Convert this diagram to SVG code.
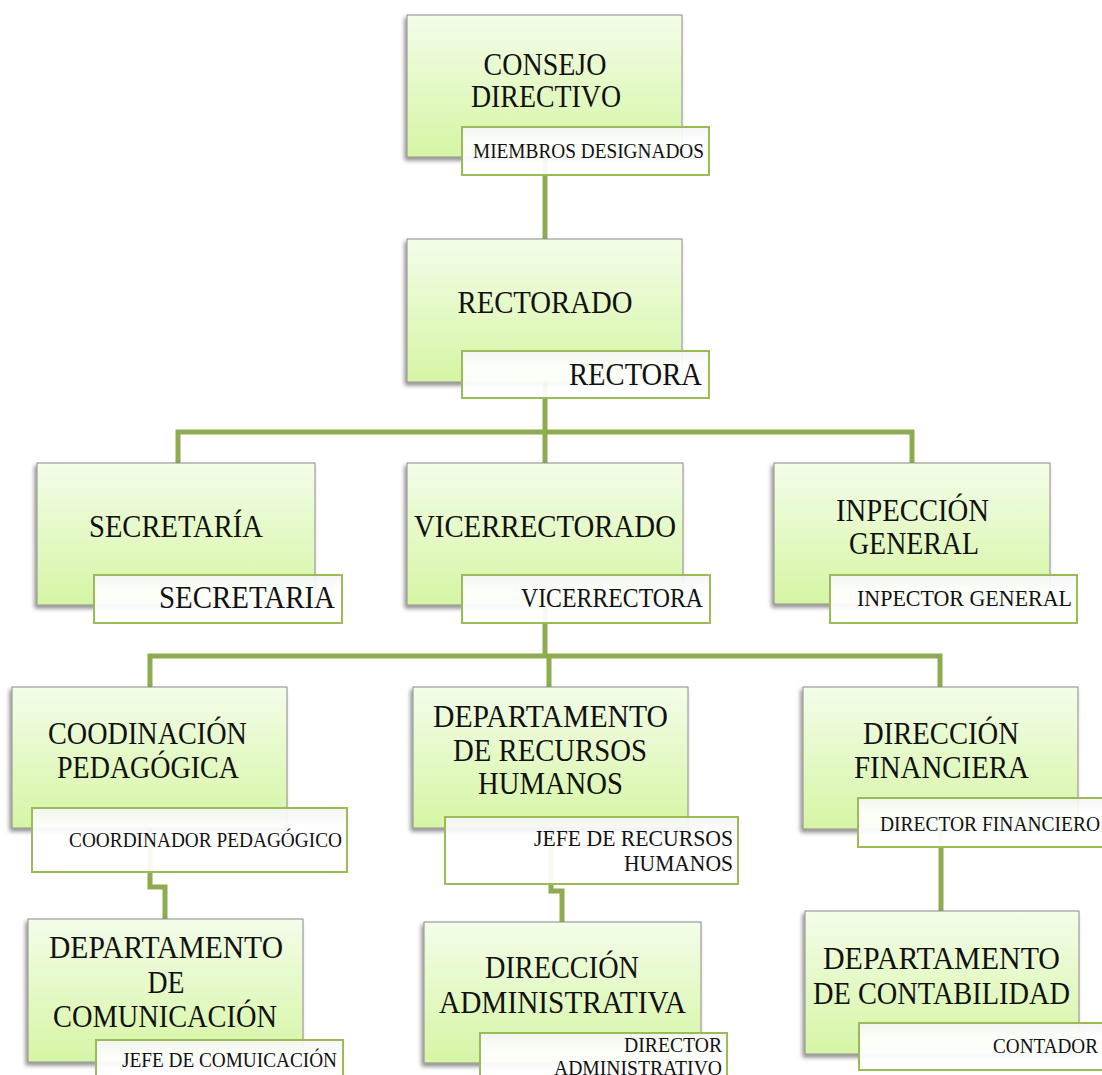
<svg xmlns="http://www.w3.org/2000/svg" width="1102" height="1075" viewBox="0 0 1102 1075">
<defs>
<linearGradient id="gFill" x1="0" y1="0" x2="0" y2="1">
<stop offset="0" stop-color="#f3fde9"/>
<stop offset="1" stop-color="#d6f5a4"/>
</linearGradient>
<linearGradient id="gLab" x1="0" y1="0" x2="0" y2="1">
<stop offset="0" stop-color="#f4f4f4" stop-opacity="0.92"/>
<stop offset="0.3" stop-color="#ffffff" stop-opacity="0.92"/>
<stop offset="1" stop-color="#ffffff" stop-opacity="0.94"/>
</linearGradient>
<filter id="sh" x="-10%" y="-10%" width="120%" height="125%">
<feDropShadow dx="-2" dy="3" stdDeviation="2" flood-color="#000" flood-opacity="0.45"/>
</filter>
</defs>
<style>
.box{fill:url(#gFill);stroke:#8c8c8c;stroke-width:1;filter:url(#sh)}
.lab{fill:url(#gLab);stroke:#9bbb59;stroke-width:2}
.t{font-family:"Liberation Serif","Times New Roman",serif;font-size:31px;fill:#111;text-anchor:middle}
.l{font-family:"Liberation Serif","Times New Roman",serif;fill:#111;text-anchor:end}
.c{fill:none;stroke:#8eab50;stroke-width:5}
</style>
<g id="connectors">
<path class="c" d="M545 158 V239"/>
<path class="c" d="M545 382 V432 M178 463 V432 H912 V463 M545 432 V463"/>
<path class="c" d="M545 605 V656 M150 687 V656 H940 V687 M549 656 V687"/>
<path class="c" d="M150 828 V887 H165 V919"/>
<path class="c" d="M551 828 V891 H562 V922"/>
<path class="c" d="M941 829 V911"/>
</g>
<g id="n-consejo">
<rect class="box" x="407" y="15" width="275" height="142"/>
<text class="t" x="545" y="75" textLength="123" lengthAdjust="spacingAndGlyphs">CONSEJO</text>
<text class="t" x="546" y="107" textLength="150" lengthAdjust="spacingAndGlyphs">DIRECTIVO</text>
<rect class="lab" x="462" y="127" width="247" height="48"/>
<text class="l" x="704" y="158" font-size="22" textLength="231" lengthAdjust="spacingAndGlyphs">MIEMBROS DESIGNADOS</text>
</g>
<g id="n-rectorado">
<rect class="box" x="407" y="239" width="275" height="143"/>
<text class="t" x="545" y="313" textLength="175" lengthAdjust="spacingAndGlyphs">RECTORADO</text>
<rect class="lab" x="462" y="351" width="247" height="47"/>
<text class="l" x="702" y="385" font-size="31" textLength="133" lengthAdjust="spacingAndGlyphs">RECTORA</text>
</g>
<g id="n-secretaria">
<rect class="box" x="37" y="463" width="278" height="142"/>
<text class="t" x="176" y="537" textLength="174" lengthAdjust="spacingAndGlyphs">SECRETARÍA</text>
<rect class="lab" x="94" y="575" width="248" height="48"/>
<text class="l" x="335" y="608" font-size="31" textLength="176" lengthAdjust="spacingAndGlyphs">SECRETARIA</text>
</g>
<g id="n-vicerrectorado">
<rect class="box" x="407" y="463" width="276" height="142"/>
<text class="t" x="545" y="537" textLength="262" lengthAdjust="spacingAndGlyphs">VICERRECTORADO</text>
<rect class="lab" x="462" y="575" width="248" height="48"/>
<text class="l" x="703" y="607" font-size="27" textLength="182" lengthAdjust="spacingAndGlyphs">VICERRECTORA</text>
</g>
<g id="n-inspeccion">
<rect class="box" x="774" y="463" width="276" height="141"/>
<text class="t" x="912.5" y="521" textLength="153" lengthAdjust="spacingAndGlyphs">INPECCIÓN</text>
<text class="t" x="914" y="554" textLength="130" lengthAdjust="spacingAndGlyphs">GENERAL</text>
<rect class="lab" x="830" y="575" width="247" height="48"/>
<text class="l" x="1072" y="606" font-size="24" textLength="215" lengthAdjust="spacingAndGlyphs">INPECTOR GENERAL</text>
</g>
<g id="n-coordinacion">
<rect class="box" x="12" y="687" width="275" height="141"/>
<text class="t" x="147.5" y="744" textLength="199" lengthAdjust="spacingAndGlyphs">COODINACIÓN</text>
<text class="t" x="148" y="778" textLength="182" lengthAdjust="spacingAndGlyphs">PEDAGÓGICA</text>
<rect class="lab" x="32" y="808" width="315" height="64"/>
<text class="l" x="342" y="847" font-size="21" textLength="273" lengthAdjust="spacingAndGlyphs">COORDINADOR PEDAGÓGICO</text>
</g>
<g id="n-rrhh">
<rect class="box" x="413" y="687" width="275" height="141"/>
<text class="t" x="550.5" y="727" textLength="235" lengthAdjust="spacingAndGlyphs">DEPARTAMENTO</text>
<text class="t" x="550" y="761" textLength="194" lengthAdjust="spacingAndGlyphs">DE RECURSOS</text>
<text class="t" x="550.5" y="794" textLength="145" lengthAdjust="spacingAndGlyphs">HUMANOS</text>
<rect class="lab" x="445" y="817" width="293" height="67"/>
<text class="l" x="733" y="846" font-size="24" textLength="199" lengthAdjust="spacingAndGlyphs">JEFE DE RECURSOS</text>
<text class="l" x="733" y="871" font-size="24" textLength="109" lengthAdjust="spacingAndGlyphs">HUMANOS</text>
</g>
<g id="n-financiera">
<rect class="box" x="803" y="687" width="275" height="142"/>
<text class="t" x="941" y="744" textLength="156" lengthAdjust="spacingAndGlyphs">DIRECCIÓN</text>
<text class="t" x="941.5" y="778" textLength="175" lengthAdjust="spacingAndGlyphs">FINANCIERA</text>
<rect class="lab" x="858" y="798" width="250" height="49"/>
<text class="l" x="1100" y="831" font-size="22" textLength="220" lengthAdjust="spacingAndGlyphs">DIRECTOR FINANCIERO</text>
</g>
<g id="n-comunicacion">
<rect class="box" x="28" y="919" width="275" height="143"/>
<text class="t" x="166" y="958" textLength="234" lengthAdjust="spacingAndGlyphs">DEPARTAMENTO</text>
<text class="t" x="166" y="993" textLength="37" lengthAdjust="spacingAndGlyphs">DE</text>
<text class="t" x="165" y="1027" textLength="224" lengthAdjust="spacingAndGlyphs">COMUNICACIÓN</text>
<rect class="lab" x="96" y="1040" width="247" height="48"/>
<text class="l" x="337" y="1067" font-size="22" textLength="215" lengthAdjust="spacingAndGlyphs">JEFE DE COMUICACIÓN</text>
</g>
<g id="n-administrativa">
<rect class="box" x="424" y="922" width="277" height="141"/>
<text class="t" x="562" y="978" textLength="154" lengthAdjust="spacingAndGlyphs">DIRECCIÓN</text>
<text class="t" x="562.5" y="1013" textLength="247" lengthAdjust="spacingAndGlyphs">ADMINISTRATIVA</text>
<rect class="lab" x="480" y="1033" width="247" height="60"/>
<text class="l" x="722" y="1052" font-size="21" textLength="98" lengthAdjust="spacingAndGlyphs">DIRECTOR</text>
<text class="l" x="722" y="1075" font-size="21" textLength="168" lengthAdjust="spacingAndGlyphs">ADMINISTRATIVO</text>
</g>
<g id="n-contabilidad">
<rect class="box" x="805" y="911" width="274" height="143"/>
<text class="t" x="941.5" y="969" textLength="237" lengthAdjust="spacingAndGlyphs">DEPARTAMENTO</text>
<text class="t" x="941.5" y="1004" textLength="257" lengthAdjust="spacingAndGlyphs">DE CONTABILIDAD</text>
<rect class="lab" x="859" y="1023" width="250" height="47"/>
<text class="l" x="1098" y="1053" font-size="21" textLength="105" lengthAdjust="spacingAndGlyphs">CONTADOR</text>
</g>
</svg>
